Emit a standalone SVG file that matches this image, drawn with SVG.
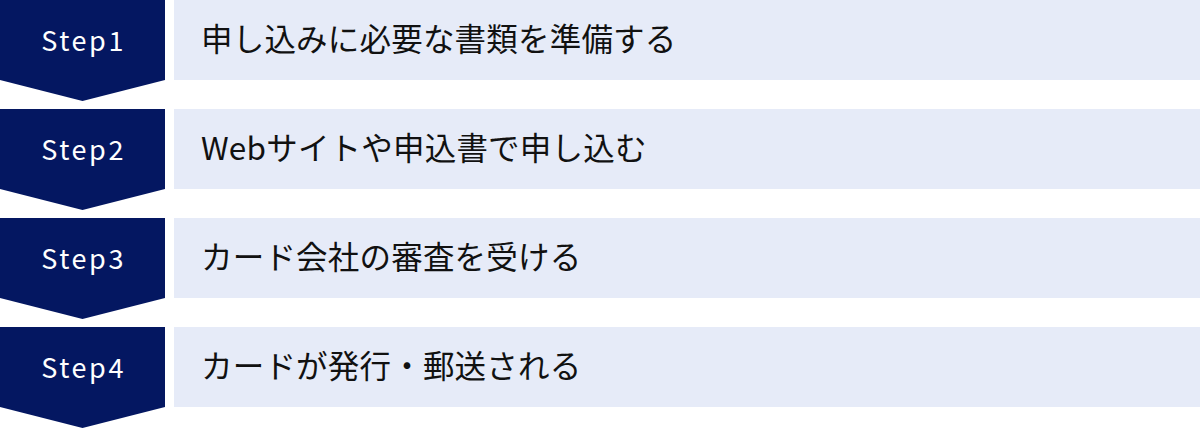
<svg xmlns="http://www.w3.org/2000/svg" width="1200" height="429" viewBox="0 0 1200 429">
<style>
.step{fill:#041761}
.bar{fill:#e6ebf8}
.st{font-family:"Noto Sans CJK JP","Noto Sans",sans-serif;font-size:27px;fill:#ffffff;letter-spacing:2.6px;text-anchor:middle}
.tx{font-family:"Noto Sans CJK JP","Noto Sans",sans-serif;font-size:31.5px;fill:#111111;letter-spacing:0.2px}
</style>
<rect width="1200" height="429" fill="#ffffff"/>
<g id="step1">
<polygon class="step" points="0,0 165,0 165,80 82.5,101 0,80"/>
<rect class="bar" x="174" y="0" width="1026" height="80"/>
<text class="st" x="83.6" y="50.5">Step1</text>
<text class="tx" x="201" y="51">申し込みに必要な書類を準備する</text>
</g>
<g id="step2">
<polygon class="step" points="0,109 165,109 165,189 82.5,210 0,189"/>
<rect class="bar" x="174" y="109" width="1026" height="80"/>
<text class="st" x="83.6" y="159.5">Step2</text>
<text class="tx" x="201" y="160">Webサイトや申込書で申し込む</text>
</g>
<g id="step3">
<polygon class="step" points="0,218 165,218 165,298 82.5,319 0,298"/>
<rect class="bar" x="174" y="218" width="1026" height="80"/>
<text class="st" x="83.6" y="268.5">Step3</text>
<text class="tx" x="201" y="269">カード会社の審査を受ける</text>
</g>
<g id="step4">
<polygon class="step" points="0,327 165,327 165,407 82.5,428 0,407"/>
<rect class="bar" x="174" y="327" width="1026" height="80"/>
<text class="st" x="83.6" y="377.5">Step4</text>
<text class="tx" x="201" y="378">カードが発行・郵送される</text>
</g>
<g id="connectors"></g>
</svg>
